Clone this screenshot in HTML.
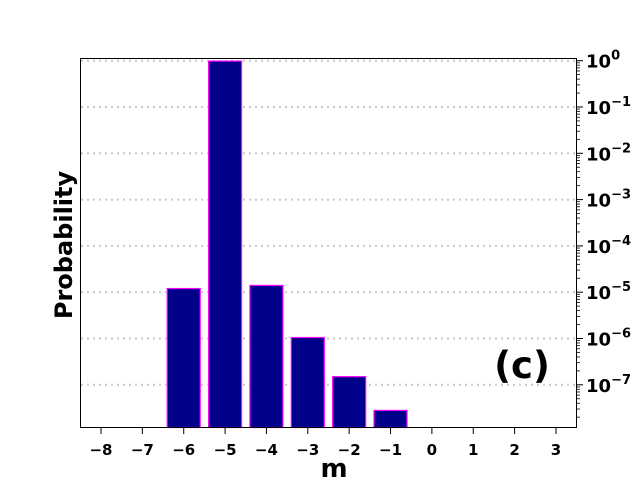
<!DOCTYPE html>
<html><head><meta charset="utf-8"><style>
body{margin:0;background:#fff}
svg text{font-family:"DejaVu Sans","Liberation Sans",sans-serif;font-weight:bold}
</style></head><body>
<svg width="640" height="480" xmlns="http://www.w3.org/2000/svg">
<g id="grid"></g>
<g id="bars"></g>
<rect x="80.5" y="58.5" width="496" height="369" fill="none" stroke="#000" stroke-width="1"/>
<g id="xt"></g>
<g id="yt"></g>
<text x="334" y="477" font-size="26" text-anchor="middle">m</text>
<text transform="translate(72,245) rotate(-90)" font-size="24" text-anchor="middle">Probability</text>
<text x="522" y="378" font-size="37" text-anchor="middle">(c)</text>
</svg>
<script>
const categories=[-6,-5,-4,-3,-2,-1];
const values=[1.2e-5,0.98,1.4e-5,1.05e-6,1.5e-7,2.8e-8];
const xTicks=[-8,-7,-6,-5,-4,-3,-2,-1,0,1,2,3];
const yDecades=[0,-1,-2,-3,-4,-5,-6,-7];
const NS="http://www.w3.org/2000/svg";
const X=v=>101+(v+8)*41.36;
const Y=v=>60.7-(Math.log10(v))*46.3;
const Yb=427.5;
function mk(t,a,p){const e=document.createElementNS(NS,t);for(const k in a)e.setAttribute(k,a[k]);p.appendChild(e);return e;}
const grid=document.getElementById('grid'),bars=document.getElementById('bars'),xt=document.getElementById('xt'),yt=document.getElementById('yt');
yDecades.forEach(d=>{const y=Y(Math.pow(10,d));
const g=mk('line',{x1:81,x2:576,y1:y,y2:y,stroke:'#c8c8c8','stroke-width':2,'stroke-dasharray':'2,4'},grid);

const t=mk('line',{x1:576,x2:583,y1:y,y2:y,stroke:'#000','stroke-width':1},yt);

const tx=mk('text',{x:586,y:y+7,'font-size':18},yt);

tx.innerHTML='10<tspan dy="-8" font-size="13">'+(d===0?'0':'\u2212'+(-d))+'</tspan>';
for(let m=2;m<10;m++){const ym=Y(Math.pow(10,d-1)*m);if(ym>Yb)continue;
const mt=mk('line',{x1:576,x2:580,y1:ym,y2:ym,stroke:'#000','stroke-width':0.8},yt);
}
});
categories.forEach((c,i)=>{const y=Y(values[i]);
const r=mk('rect',{x:X(c)-16.5,y:y,width:33,height:Yb-y,fill:'#00008b',stroke:'#ff00ff','stroke-width':1.2},bars);
});
xTicks.forEach(v=>{const x=X(v);
const t=mk('line',{x1:x,x2:x,y1:427,y2:434,stroke:'#000','stroke-width':1},xt);

const tx=mk('text',{x:x,y:455,'font-size':15,'text-anchor':'middle'},xt);

tx.textContent=v<0?'\u2212'+(-v):String(v);});
</script>
</body></html>
